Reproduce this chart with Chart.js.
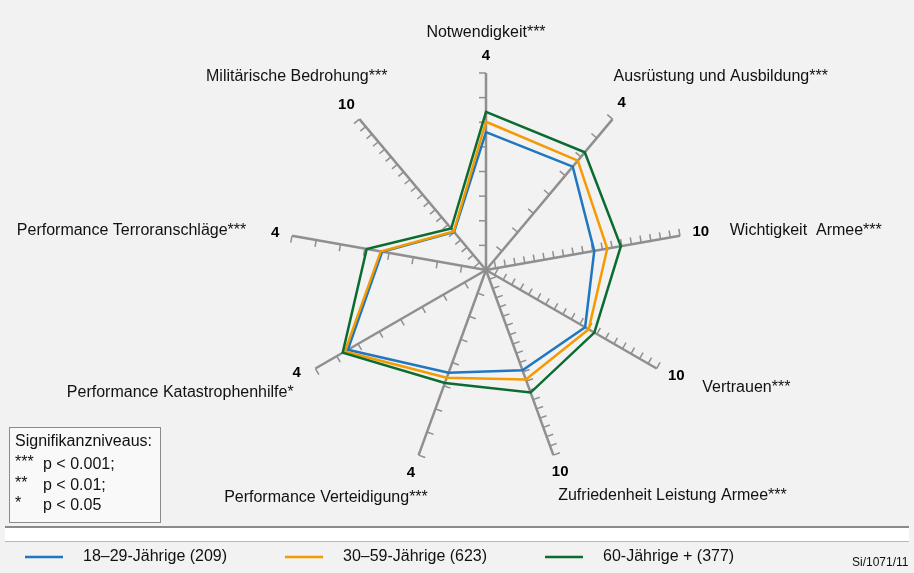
<!DOCTYPE html>
<html>
<head>
<meta charset="utf-8">
<script src="https://cdn.jsdelivr.net/npm/chart.js"></script>
<style>
  html,body{margin:0;padding:0;background:#f2f2f2;}
  #wrap{width:914px;height:573px;position:relative;}
</style>
</head>
<body>
<div id="wrap"><canvas id="radar" width="914" height="573"></canvas></div>
<script>
// axes, clockwise from the top
const axisLabels = ['Notwendigkeit***','Ausrüstung und Ausbildung***','Wichtigkeit  Armee***','Vertrauen***',
  'Zufriedenheit Leistung Armee***','Performance Verteidigung***','Performance Katastrophenhilfe*',
  'Performance Terroranschläge***','Militärische Bedrohung***'];
const axisMax = [4,4,10,10,10,4,4,4,10];
const seriesNames = ['18–29-Jährige (209)','30–59-Jährige (623)','60-Jährige + (377)'];
const young  = [2.80,2.74,5.58,5.81,5.42,2.22,3.24,2.14,2.52];
const middle = [3.01,2.90,6.25,6.02,5.92,2.33,3.31,2.17,2.55];
const senior = [3.21,3.12,6.95,6.35,6.62,2.44,3.36,2.46,2.75];
const sigLines = [['***','p < 0.001;'],['**','p < 0.01;'],['*','p < 0.05']];
const source = 'Si/1071/11';

const colors = ['#1f77c0','#f59b00','#0b6b30'];
const gray = '#8f8f8f';
const font = '16px "Liberation Sans", Arial, sans-serif';
const bold = 'bold 15px "Liberation Sans", Arial, sans-serif';

// name placement relative to the max number: [dx, dy, align], plus number nudge
const labelLayout = [
  {nx:0,ny:0, dx:0,  dy:-23, a:'center'},
  {nx:-2,ny:-3, dx:-8, dy:-26, a:'left'},
  {nx:4,ny:-1, dx:29, dy:-1, a:'left'},
  {nx:5,ny:-1, dx:26, dy:12, a:'left'},
  {nx:1,ny:1, dx:-2, dy:23, a:'left'},
  {nx:-2,ny:2, dx:17, dy:24, a:'right'},
  {nx:-4,ny:-4, dx:-3, dy:20, a:'right'},
  {nx:0,ny:0, dx:-29,dy:-2, a:'right'},
  {nx:-2,ny:-1, dx:41, dy:-28,a:'right'}
];

const norm = arr => arr.map((v,i)=>v/axisMax[i]);

const axisTicks = {
  id:'axisTicks',
  beforeDatasetsDraw(chart){
    const s=chart.scales.r, c=chart.ctx;
    c.save(); c.strokeStyle=gray; c.lineWidth=1.5;
    axisMax.forEach((m,i)=>{
      const n=m/0.5;
      for(let k=1;k<=n;k++){
        const p=s.getPointPosition(i, s.drawingArea*k/n);
        const ux=Math.cos(p.angle), uy=Math.sin(p.angle);
        c.beginPath(); c.moveTo(p.x,p.y); c.lineTo(p.x+uy*7, p.y-ux*7); c.stroke();
      }
    });
    c.restore();
  }
};

const decor = {
  id:'decor',
  afterDraw(chart){
    const s=chart.scales.r, c=chart.ctx;
    c.save();
    c.textBaseline='middle';
    axisLabels.forEach((lab,i)=>{
      const L=labelLayout[i];
      const p=s.getPointPosition(i, s.drawingArea+17);
      const x=p.x+L.nx, y=p.y+L.ny;
      c.fillStyle='#000'; c.font=bold; c.textAlign='center';
      c.fillText(String(axisMax[i]), x, y);
      c.font=font; c.fillStyle='#111'; c.textAlign=L.a;
      c.fillText(lab, x+L.dx, y+L.dy);
    });
    // significance box
    c.fillStyle='#f9f9f9'; c.fillRect(9.5,427.5,151,95);
    c.strokeStyle='#8a8a8a'; c.lineWidth=1; c.strokeRect(9.5,427.5,151,95);
    c.fillStyle='#111'; c.textAlign='left'; c.font=font;
    c.fillText('Signifikanzniveaus:',15,442);
    sigLines.forEach((r,k)=>{
      const y=465+k*20.5;
      c.fillText(r[0],15,y-2); c.fillText(r[1],43,y);
    });
    // footer rules
    c.fillStyle='#ffffff'; c.fillRect(5,528,904,13);
    c.fillStyle='#8a8a8a'; c.fillRect(5,526,904,2);
    c.fillStyle='#b8b8b8'; c.fillRect(5,541,904,1);
    // legend
    const lx=[25,285,545];
    chart.data.datasets.forEach((d,k)=>{
      c.strokeStyle=d.borderColor; c.lineWidth=2.5;
      c.beginPath(); c.moveTo(lx[k],557); c.lineTo(lx[k]+38,557); c.stroke();
      c.fillStyle='#111'; c.font=font; c.textAlign='left';
      c.fillText(d.label, lx[k]+58, 557);
    });
    c.font='12px "Liberation Sans", Arial, sans-serif';
    c.fillText(source, 852, 563);
    c.restore();
  }
};

new Chart(document.getElementById('radar'),{
  type:'radar',
  data:{
    labels:axisLabels,
    datasets:[young,middle,senior].map((s,k)=>({
      label:seriesNames[k], data:norm(s), borderColor:colors[k], backgroundColor:'transparent',
      borderWidth:2.5, pointRadius:0, fill:false, order:3-k
    }))
  },
  options:{
    responsive:false, animation:false,
    layout:{padding:{left:289,right:231,top:73,bottom:106}},
    plugins:{legend:{display:false},tooltip:{enabled:false}},
    scales:{r:{
      min:0,max:1,
      ticks:{display:false},
      grid:{display:false},
      pointLabels:{display:false},
      angleLines:{display:true,color:gray,lineWidth:2.5}
    }}
  },
  plugins:[axisTicks,decor]
});
</script>
</body>
</html>
